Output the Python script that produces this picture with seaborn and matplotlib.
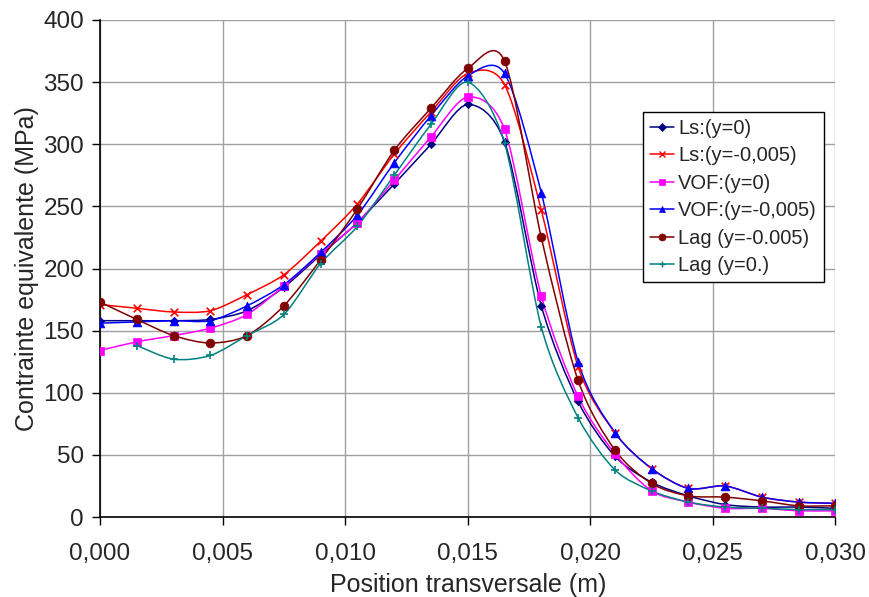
import matplotlib
matplotlib.use("Agg")
import matplotlib.pyplot as plt
from matplotlib.path import Path
from matplotlib.patches import PathPatch
from matplotlib.lines import Line2D
import numpy as np
import seaborn as sns

# positions transversales (m)
x_pos = [0.0, 0.0015, 0.003, 0.0045, 0.006, 0.0075, 0.009, 0.0105, 0.012, 0.0135, 0.015,
         0.0165, 0.018, 0.0195, 0.021, 0.0225, 0.024, 0.0255, 0.027, 0.0285, 0.030]

# contrainte equivalente (MPa)
ls_y0 = [158, 158, 158, 159, 166, 185, 211, 237, 268, 300, 332,
         302, 170, 93, 49, 28, 17, 10, 8, 8, 7]
ls_y005 = [171, 168, 165, 166, 179, 195, 222, 252, 292, 326, 357,
           348, 247, 121, 68, 39, 23, 25, 16, 12, 11]
vof_y0 = [134, 141, 146, 152, 163, 186, 212, 237, 271, 306, 338,
          312, 178, 97, 51, 21, 12, 7, 7, 5, 5]
vof_y005 = [156, 157, 158, 158, 170, 187, 213, 243, 285, 323, 355,
            357, 261, 125, 68, 39, 23, 25, 16, 12, 11]
lag_y005 = [173, 159, 146, 140, 146, 170, 207, 248, 295, 329, 361,
            367, 225, 110, 54, 27, 17, 16, 13, 9, 9]
lag_y0 = [np.nan, 138, 127, 130, 146, 163, 204, 234, 275, 316, 350,
          301, 153, 80, 38, 21, 12, 8, 7, 6, 6]

series = [
    ("Ls:(y=0)", ls_y0, "#000080", "D", 18),
    ("Ls:(y=-0,005)", ls_y005, "#FF0000", "x", 30),
    ("VOF:(y=0)", vof_y0, "#FF00FF", "s", 34),
    ("VOF:(y=-0,005)", vof_y005, "#0000FF", "^", 40),
    ("Lag (y=-0.005)", lag_y005, "#800000", "o", 40),
    ("Lag (y=0.)", lag_y0, "#008080", "+", 40),
]


def smooth_path(xs, ys, k=7.0):
    # courbe lissee facon Excel (Bezier type Catmull-Rom)
    pts = np.array([(a, b) for a, b in zip(xs, ys) if not np.isnan(b)])
    verts = [pts[0]]
    codes = [Path.MOVETO]
    n = len(pts)
    for i in range(n - 1):
        p0 = pts[i - 1] if i > 0 else pts[i]
        p1 = pts[i]
        p2 = pts[i + 1]
        p3 = pts[i + 2] if i + 2 < n else pts[i + 1]
        c1 = p1 + (p2 - p0) / k
        c2 = p2 - (p3 - p1) / k
        verts += [c1, c2, p2]
        codes += [Path.CURVE4] * 3
    return Path(verts, codes)


sns.set_style("white")
plt.rcParams["font.family"] = ["Liberation Sans", "DejaVu Sans"]

fig, ax = plt.subplots(figsize=(8.69, 5.97), dpi=100)
fig.subplots_adjust(left=0.1151, right=0.9614, top=0.9665, bottom=0.134)

handles = []
for label, vals, color, marker, size in series:
    ax.add_patch(PathPatch(smooth_path(x_pos, vals), fill=False, edgecolor=color, lw=1.1, zorder=2))
    if marker in ("x", "+"):
        sns.scatterplot(x=x_pos, y=vals, marker=marker, color=color, s=size, linewidth=1.2, ax=ax, zorder=3)
    else:
        sns.scatterplot(x=x_pos, y=vals, marker=marker, color=color, s=size, edgecolor=color, linewidth=0.5, ax=ax, zorder=3)
    handles.append(Line2D([], [], color=color, marker=marker, lw=1.1,
                          markersize=5 if marker != "D" else 4, markeredgewidth=1 if marker in ("x", "+") else 0.5))

ax.set_xlim(0, 0.030)
ax.set_ylim(0, 400)
ax.set_xticks(np.arange(0, 0.0301, 0.005))
ax.set_yticks(np.arange(0, 401, 50))
ax.set_xticklabels([f"{t:.3f}".replace(".", ",") for t in np.arange(0, 0.0301, 0.005)])
ax.grid(True, color="#a0a0a0", lw=1)
ax.set_axisbelow(True)
for side in ("top", "right"):
    ax.spines[side].set_visible(False)
for side in ("left", "bottom"):
    ax.spines[side].set_color("black")
    ax.spines[side].set_linewidth(1.2)
ax.tick_params(axis="both", direction="out", length=5.5, width=1, color="black", labelsize=17.5, left=True, bottom=True)
ax.tick_params(axis="x", pad=13)
ax.tick_params(axis="y", pad=6)
ax.set_xlabel("Position transversale (m)", fontsize=18)
ax.set_ylabel("Contrainte equivalente (MPa)", fontsize=18)
ax.xaxis.set_label_coords(0.5, -0.112)
ax.yaxis.set_label_coords(-0.083, 0.5)

leg = ax.legend(handles, [s[0] for s in series], loc="upper left", bbox_to_anchor=(0.738, 0.815),
                borderaxespad=0, frameon=True, fancybox=False, fontsize=14.5, handlelength=1.2,
                labelspacing=0.42, handletextpad=0.2, borderpad=0.35)
leg.get_frame().set_edgecolor("black")
leg.get_frame().set_linewidth(1)
leg.get_frame().set_alpha(1)

fig.savefig("out.png", dpi=100)
